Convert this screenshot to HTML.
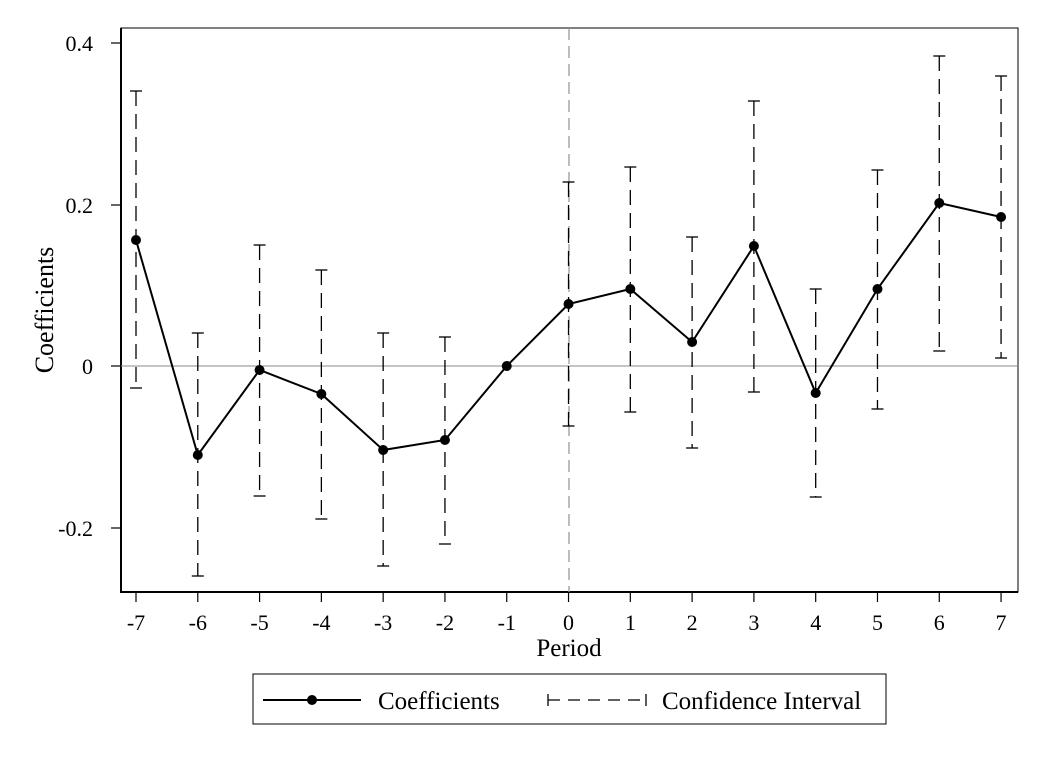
<!DOCTYPE html>
<html><head><style>body{margin:0;background:#fff}svg{display:block}text{font-family:"Liberation Serif",serif;fill:#000}</style></head>
<body>
<svg width="1045" height="760" xmlns="http://www.w3.org/2000/svg">
<rect x="121" y="28" width="897" height="564" fill="none" stroke="#000" stroke-width="1"/>
<line x1="121" y1="28" x2="121" y2="593" stroke="#000" stroke-width="2"/>
<line x1="120" y1="592" x2="1018" y2="592" stroke="#000" stroke-width="2"/>
<line x1="121" y1="366" x2="1018" y2="366" stroke="#888" stroke-width="1"/>
<line x1="569" y1="28" x2="569" y2="592" stroke="#999" stroke-width="1.3" stroke-dasharray="12,6"/>
<g stroke="#000" stroke-width="1.2">
<line x1="111" y1="43" x2="121" y2="43"/><line x1="111" y1="205" x2="121" y2="205"/><line x1="111" y1="366" x2="121" y2="366"/><line x1="111" y1="528" x2="121" y2="528"/>
</g>
<g font-size="22" text-anchor="end">
<text x="93" y="51">0.4</text><text x="93" y="213">0.2</text><text x="93" y="374">0</text><text x="93" y="536">-0.2</text>
</g>
<text transform="translate(53,310) rotate(-90)" font-size="26" text-anchor="middle">Coefficients</text>
<g id="xt" stroke="#000" stroke-width="1.2"></g>
<g id="xl" font-size="22" text-anchor="middle"></g>
<text x="569" y="656" font-size="25" text-anchor="middle">Period</text>
<g id="ci" stroke="#000" stroke-width="1.3" fill="none"></g>
<polyline id="ln" fill="none" stroke="#000" stroke-width="2"/>
<g id="pts"></g>
<rect x="253" y="674" width="633" height="50" fill="none" stroke="#000" stroke-width="1"/>
<line x1="263" y1="700" x2="361" y2="700" stroke="#000" stroke-width="2"/>
<circle cx="312" cy="700" r="5" fill="#000"/>
<text x="378" y="709" font-size="25">Coefficients</text>
<line x1="548" y1="700" x2="646" y2="700" stroke="#000" stroke-width="1.3" stroke-dasharray="12,8"/>
<line x1="548" y1="694" x2="548" y2="706" stroke="#000" stroke-width="1.3"/>
<line x1="646" y1="694" x2="646" y2="706" stroke="#000" stroke-width="1.3"/>
<text x="662" y="709" font-size="25">Confidence Interval</text>
</svg>
<script>
const ns="http://www.w3.org/2000/svg";
const X=k=>136+(k+7)*61.79;
const py=[240,455,370,394,450,440,366,304,289,342,246,393,289,203,217];
const ci=[[91,388],[333,576],[245,496],[270,519],[333,566],[337,544],null,[182,426],[167,412],[237,448],[101,392],[289,497],[170,409],[56,351],[76,358]];
function el(p,t,a,txt){const e=document.createElementNS(ns,t);for(const k in a)e.setAttribute(k,a[k]);if(txt!=null)e.textContent=txt;document.getElementById(p).appendChild(e);}
let pts=[];
for(let i=0;i<15;i++){const k=i-7,x=X(k);
el("xt","line",{x1:x,y1:592,x2:x,y2:602});
el("xl","text",{x:x,y:630},String(k));
if(ci[i]){const[a,b]=ci[i];
el("ci","line",{x1:x,y1:a,x2:x,y2:b,"stroke-dasharray":"15,8"});
el("ci","line",{x1:x-6,y1:a,x2:x+6,y2:a});
el("ci","line",{x1:x-6,y1:b,x2:x+6,y2:b});}
pts.push(x+","+py[i]);
el("pts","circle",{cx:x,cy:py[i],r:5,fill:"#000"});}
document.getElementById("ln").setAttribute("points",pts.join(" "));
</script>
</body></html>
